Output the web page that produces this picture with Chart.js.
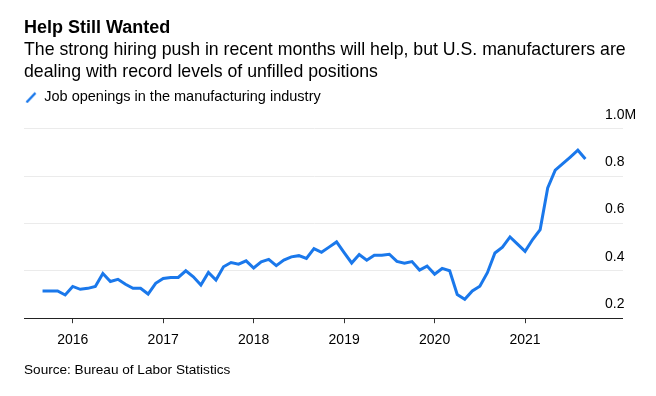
<!DOCTYPE html>
<html>
<head>
<meta charset="utf-8">
<script src="https://cdn.jsdelivr.net/npm/chart.js@4"></script>
<style>
  body { margin: 0; background: #fff; }
  #wrap { position: relative; width: 656px; height: 396px; }
  #source {
    position: absolute; left: 24px; top: 362px;
    font: 13.6px "Liberation Sans", Arial, sans-serif; color: #000;
  }
</style>
</head>
<body>
<div id="wrap">
  <canvas id="chart" width="656" height="396"></canvas>
  <div id="source">Source: Bureau of Labor Statistics</div>
</div>
<script>
// months counted from Jan 2016 (Sep 2015 = -4 ... Sep 2021 = 68)
const firstMonth = -4;
const yearTicks = [0, 12, 24, 36, 48, 60];
const yearLabels = ["2016", "2017", "2018", "2019", "2020", "2021"];
const yTicks = [0.2, 0.4, 0.6, 0.8, 1.0];

// job openings, millions
const openings = [
  0.315, 0.315, 0.315, 0.298,                                              // 2015 Sep-Dec
  0.334, 0.322, 0.326, 0.334, 0.389, 0.355, 0.364, 0.343, 0.326, 0.326, 0.302, 0.347, // 2016
  0.368, 0.372, 0.372, 0.400, 0.375, 0.340, 0.393, 0.361, 0.417, 0.435, 0.428, 0.442, // 2017
  0.412, 0.438, 0.448, 0.422, 0.445, 0.459, 0.464, 0.452, 0.494, 0.478, 0.500, 0.522, // 2018
  0.477, 0.433, 0.469, 0.445, 0.466, 0.466, 0.470, 0.440, 0.432, 0.439, 0.403, 0.420, // 2019
  0.386, 0.410, 0.400, 0.300, 0.280, 0.315, 0.335, 0.392, 0.475, 0.500, 0.543, 0.513, // 2020
  0.482, 0.532, 0.574, 0.750, 0.825, 0.852, 0.880, 0.909, 0.872           // 2021 Jan-Sep
];

const blue = "rgb(26,120,235)";
const font = '"Liberation Sans", Arial, sans-serif';

// legend icon: short diagonal stroke
const icon = document.createElement("canvas");
icon.width = 12; icon.height = 12;
const ic = icon.getContext("2d");
ic.strokeStyle = blue;
ic.lineWidth = 2.5;
ic.beginPath();
ic.moveTo(1.5, 11);
ic.lineTo(10.5, 1.5);
ic.stroke();

const points = openings.map((v, i) => ({x: firstMonth + i, y: v}));

// extra room under the legend
const legendGap = {
  id: "legendGap",
  beforeInit(chart) {
    const fit = chart.legend.fit;
    chart.legend.fit = function () {
      fit.call(this);
      this.height += 14;
    };
  }
};

new Chart(document.getElementById("chart"), {
  type: "line",
  data: {
    datasets: [{
      label: "Job openings in the manufacturing industry",
      data: points,
      borderColor: blue,
      backgroundColor: blue,
      borderWidth: 3,
      pointRadius: 0,
      pointStyle: icon,
      tension: 0
    }]
  },
  plugins: [legendGap],
  options: {
    responsive: false,
    animation: false,
    layout: { padding: { top: 17, left: 24, right: 0, bottom: 38 } },
    plugins: {
      title: {
        display: true,
        text: "Help Still Wanted",
        align: "start",
        color: "#000",
        font: { family: font, size: 18, weight: "bold", lineHeight: 1.2 },
        padding: 0
      },
      subtitle: {
        display: true,
        text: [
          "The strong hiring push in recent months will help, but U.S. manufacturers are",
          "dealing with record levels of unfilled positions"
        ],
        align: "start",
        color: "#000",
        font: { family: font, size: 17.7, lineHeight: 1.23 },
        padding: { top: 1, bottom: 6 }
      },
      legend: {
        display: true,
        align: "start",
        labels: {
          usePointStyle: true,
          color: "#000",
          font: { family: font, size: 14.5 },
          boxWidth: 12,
          boxHeight: 12,
          padding: 1
        }
      },
      tooltip: { enabled: false }
    },
    scales: {
      x: {
        type: "linear",
        min: -6.46,
        max: 70.6,
        afterBuildTicks: scale => { scale.ticks = yearTicks.map(v => ({value: v})); },
        ticks: {
          color: "#000",
          font: { family: font, size: 14 },
          padding: 9,
          maxRotation: 0,
          callback: v => yearLabels[yearTicks.indexOf(v)]
        },
        grid: { drawOnChartArea: false, drawTicks: true, tickLength: 5, color: "#333" },
        border: { display: true, color: "#222", width: 1 }
      },
      y: {
        position: "right",
        min: 0.2,
        max: 1.0,
        afterBuildTicks: scale => { scale.ticks = yTicks.map(v => ({value: v})); },
        afterFit: scale => { scale.width = 51; },
        ticks: {
          color: "#000",
          font: { family: font, size: 14 },
          crossAlign: "near",
          padding: -18,
          labelOffset: -14,
          callback: v => Math.abs(v - 1) < 1e-9 ? "1.0M" : v.toFixed(1)
        },
        grid: {
          color: c => (c.tick && Math.abs(c.tick.value - 0.2) < 1e-9) ? "#222" : "#ebebeb",
          lineWidth: 1,
          drawTicks: true,
          tickLength: 18
        },
        border: { display: false }
      }
    }
  }
});
</script>
</body>
</html>
